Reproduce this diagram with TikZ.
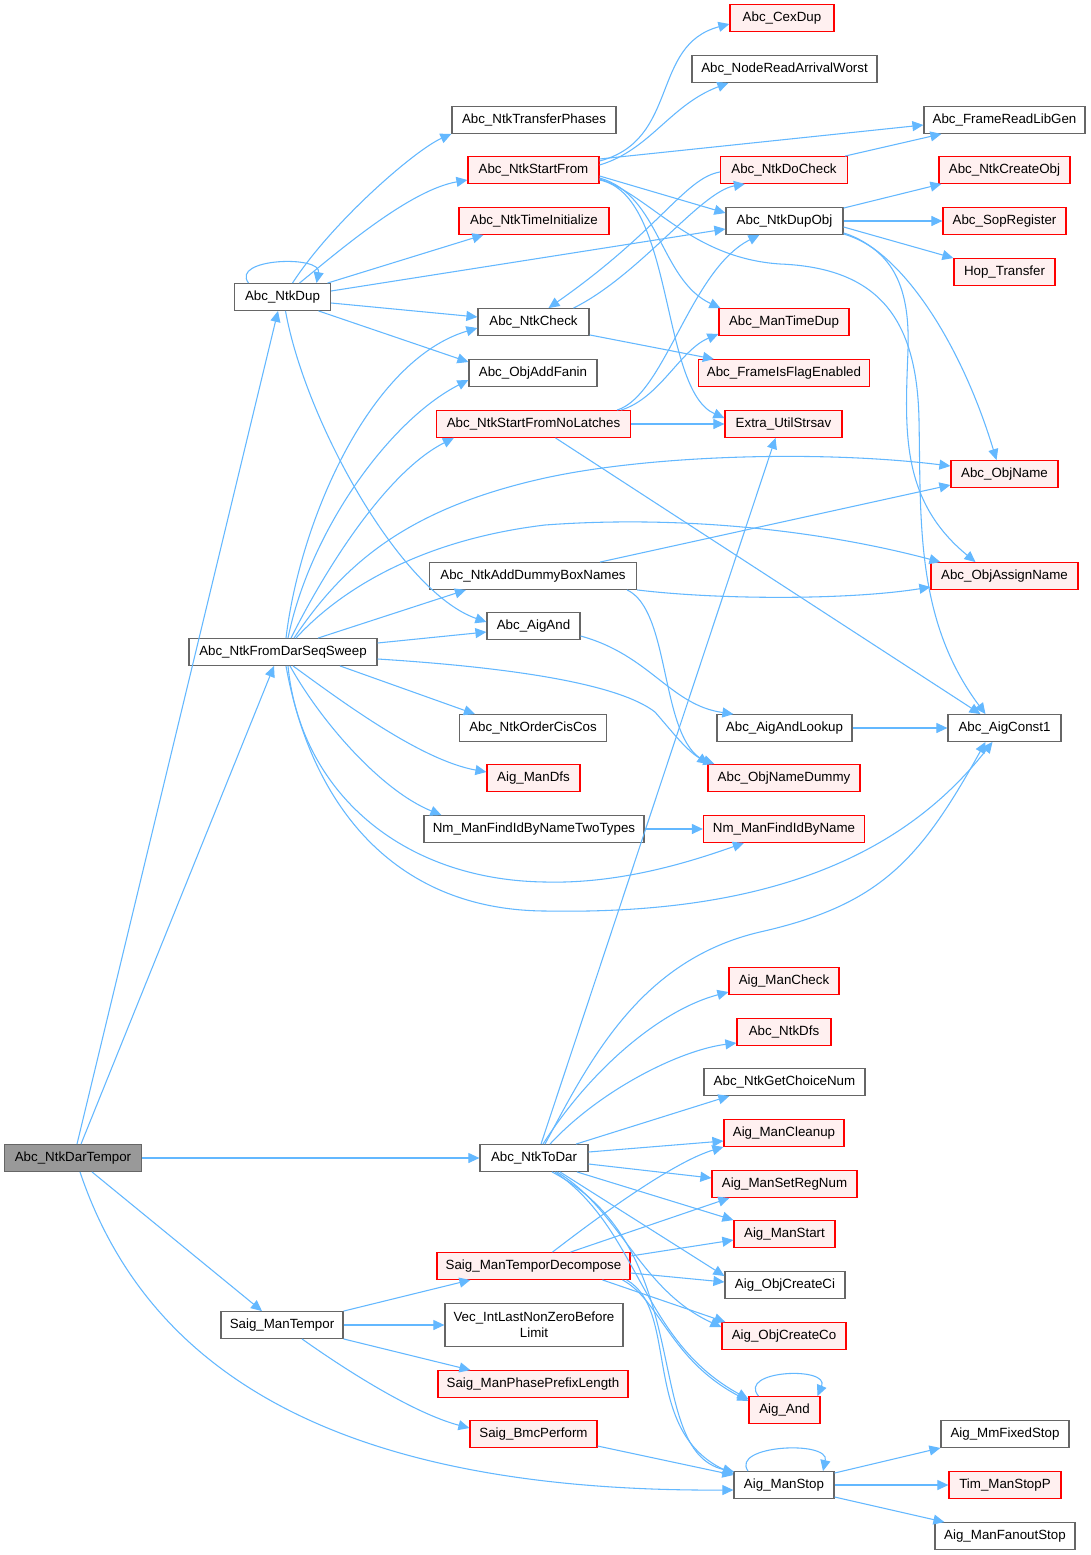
\documentclass[tikz,border=0pt]{standalone}
\usepackage{fontspec}
\setmainfont{Liberation Sans}
\usetikzlibrary{arrows.meta,calc}
\definecolor{edgec}{RGB}{99,184,255}
\definecolor{bordg}{RGB}{102,102,102}
\definecolor{redfill}{RGB}{255,240,240}
\definecolor{rootfill}{RGB}{153,153,153}
\begin{document}
\begin{tikzpicture}[x=0.75pt,y=-0.75pt,
  base/.style={rectangle,inner sep=0pt,minimum height=20pt,line width=0.9pt,font=\fontsize{10}{12}\selectfont,text=black},
  nb/.style={base,draw=bordg,fill=white},
  nr/.style={base,draw=red,fill=redfill},
  nroot/.style={base,draw=bordg,fill=rootfill},
  ed/.style={draw=edgec,line width=0.8pt,-{Triangle[length=8.25pt,width=7.5pt]}}
]
\fill[white] (0,0) rectangle (1090,1555);
\useasboundingbox (0,0) rectangle (1090,1555);

% nodes
\node[nroot,minimum width=102.75pt] (root) at (73,1158) {Abc\_NtkDarTempor};
\node[nb,minimum width=72pt] (dup) at (282.5,297) {Abc\_NtkDup};
\node[nb,minimum width=141pt] (sweep) at (283,652) {Abc\_NtkFromDarSeqSweep};
\node[nb,minimum width=81pt] (todar) at (534,1158) {Abc\_NtkToDar};
\node[nb,minimum width=91.5pt] (stemp) at (282,1325) {Saig\_ManTempor};
\node[nb,minimum width=123pt] (transf) at (534,120) {Abc\_NtkTransferPhases};
\node[nr,minimum width=98.25pt] (startfrom) at (533.5,170) {Abc\_NtkStartFrom};
\node[nr,minimum width=112.5pt] (timeinit) at (534,221) {Abc\_NtkTimeInitialize};
\node[nb,minimum width=83.25pt] (ntkcheck) at (533.5,322) {Abc\_NtkCheck};
\node[nb,minimum width=96pt] (addfanin) at (533,373) {Abc\_ObjAddFanin};
\node[nr,minimum width=145.5pt] (startnl) at (533.5,424) {Abc\_NtkStartFromNoLatches};
\node[nb,minimum width=155.25pt] (dummybox) at (533,576) {Abc\_NtkAddDummyBoxNames};
\node[nb,minimum width=69.75pt] (aigand) at (533.5,626) {Abc\_AigAnd};
\node[nb,minimum width=110.25pt] (ordercis) at (533,728) {Abc\_NtkOrderCisCos};
\node[nr,minimum width=69.75pt] (mandfs) at (533.5,778) {Aig\_ManDfs};
\node[nb,minimum width=165pt] (nmtwo) at (534,829) {Nm\_ManFindIdByNameTwoTypes};
\node[nr,minimum width=78pt] (cexdup) at (782,18) {Abc\_CexDup};
\node[nb,minimum width=138.75pt] (arrival) at (784.5,69) {Abc\_NodeReadArrivalWorst};
\node[nb,minimum width=120.75pt] (libgen) at (1004.5,120) {Abc\_FrameReadLibGen};
\node[nr,minimum width=95.25pt] (docheck) at (784,170) {Abc\_NtkDoCheck};
\node[nb,minimum width=87.75pt] (dupobj) at (784.5,221) {Abc\_NtkDupObj};
\node[nr,minimum width=98.25pt] (createobj) at (1004.5,170) {Abc\_NtkCreateObj};
\node[nr,minimum width=92.25pt] (sopreg) at (1004.5,221) {Abc\_SopRegister};
\node[nr,minimum width=75.75pt] (hop) at (1004.5,272) {Hop\_Transfer};
\node[nr,minimum width=97.5pt] (timedup) at (784,322) {Abc\_ManTimeDup};
\node[nr,minimum width=128.25pt] (flagen) at (784,373) {Abc\_FrameIsFlagEnabled};
\node[nr,minimum width=87.75pt] (strsav) at (783.5,424) {Extra\_UtilStrsav};
\node[nr,minimum width=80.25pt] (objname) at (1004.5,474) {Abc\_ObjName};
\node[nr,minimum width=110.25pt] (assignname) at (1004.5,576) {Abc\_ObjAssignName};
\node[nb,minimum width=101.25pt] (andlookup) at (784.5,728) {Abc\_AigAndLookup};
\node[nb,minimum width=84.75pt] (const1) at (1004.5,728) {Abc\_AigConst1};
\node[nr,minimum width=114pt] (namedummy) at (784,778) {Abc\_ObjNameDummy};
\node[nr,minimum width=120.75pt] (nmfind) at (784,829) {Nm\_ManFindIdByName};
\node[nr,minimum width=82.5pt] (mancheck) at (784,981) {Aig\_ManCheck};
\node[nr,minimum width=70.5pt] (ntkdfs) at (784,1032) {Abc\_NtkDfs};
\node[nb,minimum width=120.75pt] (choice) at (784.5,1082) {Abc\_NtkGetChoiceNum};
\node[nr,minimum width=90pt] (cleanup) at (784,1133) {Aig\_ManCleanup};
\node[nr,minimum width=108.75pt] (setreg) at (784.5,1184) {Aig\_ManSetRegNum};
\node[nr,minimum width=75.75pt] (manstart) at (784.5,1234) {Aig\_ManStart};
\node[nb,minimum width=90pt] (createci) at (785,1285) {Aig\_ObjCreateCi};
\node[nr,minimum width=93pt] (createco) at (784,1336) {Aig\_ObjCreateCo};
\node[nr,minimum width=53.25pt] (aigandn) at (784.5,1410) {Aig\_And};
\node[nb,minimum width=75pt] (manstop) at (784,1485) {Aig\_ManStop};
\node[nb,minimum width=96pt] (fixedstop) at (1005,1434) {Aig\_MmFixedStop};
\node[nr,minimum width=84pt] (stopp) at (1005,1485) {Tim\_ManStopP};
\node[nb,minimum width=105pt] (fanoutstop) at (1005,1536) {Aig\_ManFanoutStop};
\node[nr,minimum width=144.75pt] (decomp) at (533.5,1266) {Saig\_ManTemporDecompose};
\node[nb,minimum width=133.5pt,minimum height=32.25pt,align=center] (vecint) at (534,1325) {Vec\_IntLastNonZeroBefore\\Limit};
\node[nr,minimum width=142.5pt] (prefix) at (533,1384) {Saig\_ManPhasePrefixLength};
\node[nr,minimum width=95.25pt] (bmc) at (533.5,1434) {Saig\_BmcPerform};

% edges from root
\draw[ed] ($(root.north)+(4,0)$) -- ($(dup.south)+(-4.5,0)$);
\draw[ed] ($(root.north)+(8,0)$) -- ($(sweep.south)+(-9,0)$);
\draw[ed] (root.east) -- (todar.west);
\draw[ed] ($(root.south)+(19,0)$) -- ($(stemp.north)+(-20,0)$);
\draw[ed] ($(root.south)+(7,0)$) .. controls (150,1380) and (350,1492) .. ($(manstop.west)+(0,5)$);

% edges from Abc_NtkDup
\draw[ed] ($(dup.north)+(-34,0)$) .. controls (230,258) and (322,255) .. ($(dup.north)+(34,0)$);
\draw[ed] ($(dup.north)+(10,0)$) .. controls (332,222) and (415,150) .. (transf.south west);
\draw[ed] ($(dup.north)+(17,0)$) .. controls (340,250) and (410,190) .. ($(startfrom.west)+(0,10)$);
\draw[ed] ($(dup.north)+(45,0)$) -- ($(timeinit.south west)+(25,0)$);
\draw[ed] ($(dup.east)+(0,-6)$) -- ($(dupobj.west)+(0,8)$);
\draw[ed] ($(dup.east)+(0,6)$) -- ($(ntkcheck.west)+(0,-5)$);
\draw[ed] ($(dup.south)+(36,0)$) -- ($(addfanin.west)+(0,-11)$);
\draw[ed] ($(dup.south)+(3,0)$) .. controls (305,420) and (400,592) .. ($(aigand.west)+(0,-4)$);

% edges from Abc_NtkStartFrom
\draw[ed] ($(startfrom.east)+(0,-9)$) .. controls (680,140) and (650,45) .. ($(cexdup.west)+(0,6)$);
\draw[ed] ($(startfrom.east)+(0,-5)$) .. controls (650,150) and (670,105) .. ($(arrival.south west)+(37,0)$);
\draw[ed] ($(startfrom.east)+(0,-11)$) -- ($(libgen.west)+(0,5)$);
\draw[ed] ($(startfrom.east)+(0,6)$) -- ($(dupobj.west)+(0,-8)$);
\draw[ed] ($(startfrom.east)+(0,8)$) .. controls (660,195) and (660,280) .. ($(timedup.north west)+(2,0)$);
\draw[ed] ($(startfrom.east)+(0,10)$) .. controls (675,195) and (660,390) .. ($(strsav.west)+(0,-6)$);
\draw[ed] ($(startfrom.east)+(0,9)$) .. controls (650,195) and (690,258) .. (780,264)
   .. controls (880,268) and (917,320) .. (919,420)
   .. controls (921,520) and (915,620) .. ($(const1.north)+(-19,0)$);

% Abc_NtkDoCheck / Abc_NtkCheck
\draw[ed] ($(docheck.north east)+(-3,0)$) -- ($(libgen.south west)+(18,0)$);
\draw[ed] ($(docheck.west)+(0,2)$) .. controls (685,178) and (660,230) .. ($(ntkcheck.north)+(15,0)$);
\draw[ed] ($(ntkcheck.north)+(40,0)$) .. controls (640,275) and (700,192) .. ($(docheck.south west)+(25,0)$);
\draw[ed] ($(ntkcheck.south east)+(0,-1)$) -- ($(flagen.north west)+(16,0)$);

% Abc_NtkDupObj
\draw[ed] ($(dupobj.north east)+(0,1)$) -- ($(createobj.south west)+(3,0)$);
\draw[ed] (dupobj.east) -- (sopreg.west);
\draw[ed] ($(dupobj.east)+(0,6)$) -- (hop.north west);
\draw[ed] ($(dupobj.south east)+(0,-2)$) .. controls (900,250) and (960,340) .. ($(objname.north)+(-8,0)$);
\draw[ed] ($(dupobj.south east)+(0,-1)$) .. controls (895,250) and (910,290) .. (908,350)
   .. controls (905,430) and (900,500) .. ($(assignname.north)+(-29,0)$);

% Abc_NtkStartFromNoLatches
\draw[ed] (startnl.east) -- (strsav.west);
\draw[ed] ($(startnl.north east)+(-10,0)$) .. controls (660,398) and (680,350) .. ($(timedup.west)+(0,12)$);
\draw[ed] ($(startnl.north east)+(-14,0)$) .. controls (665,395) and (690,270) .. ($(dupobj.south west)+(34,0)$);
\draw[ed] ($(startnl.south)+(22,0)$) -- ($(const1.north)+(-24,0)$);

% Abc_NtkFromDarSeqSweep
\draw[ed] ($(sweep.north)+(3,0)$) .. controls (300,520) and (370,360) .. ($(ntkcheck.west)+(0,6)$);
\draw[ed] ($(sweep.north)+(5,0)$) .. controls (310,530) and (390,420) .. ($(addfanin.west)+(0,7)$);
\draw[ed] ($(sweep.north)+(8,0)$) .. controls (330,560) and (390,470) .. ($(startnl.south west)+(18,0)$);
\draw[ed] ($(sweep.north)+(11,0)$) .. controls (340,570) and (400,510) .. (545,478)
   .. controls (650,455) and (820,450) .. ($(objname.west)+(0,-8)$);
\draw[ed] ($(sweep.north)+(13,0)$) .. controls (340,590) and (420,540) .. (545,525)
   .. controls (680,515) and (820,530) .. ($(assignname.north west)+(10,0)$);
\draw[ed] ($(sweep.north)+(35,0)$) -- ($(dummybox.south west)+(37,0)$);
\draw[ed] ($(sweep.east)+(0,-9)$) -- ($(aigand.west)+(0,6)$);
\draw[ed] ($(sweep.east)+(0,7)$) .. controls (520,668) and (620,685) .. (655,712)
   .. controls (675,735) and (690,755) .. ($(namedummy.north west)+(7,0)$);
\draw[ed] ($(sweep.south)+(57,0)$) -- ($(ordercis.north west)+(16,0)$);
\draw[ed] ($(sweep.south)+(10,0)$) .. controls (340,700) and (420,760) .. ($(mandfs.west)+(0,-6)$);
\draw[ed] ($(sweep.south)+(7,0)$) .. controls (320,720) and (380,790) .. ($(nmtwo.north west)+(18,0)$);
\draw[ed] ($(sweep.south)+(5,0)$) .. controls (300,790) and (400,880) .. (545,882)
   .. controls (620,884) and (690,862) .. ($(nmfind.south west)+(41,0)$);
\draw[ed] ($(sweep.south)+(3,0)$) .. controls (310,800) and (390,910) .. (545,911)
   .. controls (760,915) and (900,860) .. ($(const1.south)+(-12,0)$);

% Abc_NtkAddDummyBoxNames etc.
\draw[ed] ($(dummybox.north)+(67,0)$) -- ($(objname.west)+(0,11)$);
\draw[ed] (dummybox.south east) .. controls (720,600) and (850,600) .. ($(assignname.west)+(0,11)$);
\draw[ed] ($(dummybox.south east)+(-10,0)$) .. controls (670,610) and (660,730) .. ($(namedummy.north west)+(1,0)$);
\draw[ed] ($(aigand.east)+(0,10)$) .. controls (650,655) and (670,705) .. ($(andlookup.north west)+(17,0)$);
\draw[ed] (andlookup.east) -- (const1.west);
\draw[ed] (nmtwo.east) -- (nmfind.west);

% Abc_NtkToDar
\draw[ed] ($(todar.north)+(7,0)$) -- ($(strsav.south)+(-8,0)$);
\draw[ed] ($(todar.north)+(11,0)$) .. controls (590,1060) and (640,960) .. (760,932)
   .. controls (880,905) and (920,860) .. ($(const1.south)+(-19,0)$);
\draw[ed] ($(todar.north)+(9,0)$) .. controls (590,1070) and (660,1010) .. ($(mancheck.west)+(0,11)$);
\draw[ed] ($(todar.north)+(16,0)$) .. controls (600,1090) and (680,1050) .. ($(ntkdfs.west)+(0,11)$);
\draw[ed] ($(todar.north)+(42,0)$) -- ($(choice.south west)+(26,0)$);
\draw[ed] ($(todar.east)+(0,-6)$) -- ($(cleanup.west)+(0,8)$);
\draw[ed] ($(todar.east)+(0,6)$) -- ($(setreg.west)+(0,-6)$);
\draw[ed] ($(todar.south)+(43,0)$) -- (manstart.north west);
\draw[ed] ($(todar.south)+(26,0)$) -- ($(createci.west)+(0,-9)$);
\draw[ed] ($(todar.south)+(23,0)$) .. controls (620,1210) and (640,1290) .. ($(createco.west)+(0,-9)$);
\draw[ed] ($(todar.south)+(21,0)$) .. controls (640,1230) and (640,1340) .. ($(aigandn.north west)+(0,3)$);
\draw[ed] ($(todar.south)+(18,0)$) .. controls (700,1250) and (640,1450) .. ($(manstop.north west)+(1,1)$);

% Saig_ManTemporDecompose
\draw[ed] ($(decomp.north)+(19,0)$) .. controls (620,1200) and (680,1160) .. (cleanup.south west);
\draw[ed] ($(decomp.north)+(37,0)$) -- ($(setreg.south west)+(18,0)$);
\draw[ed] ($(decomp.east)+(0,-10)$) -- ($(manstart.west)+(0,6)$);
\draw[ed] ($(decomp.east)+(0,7)$) -- ($(createci.west)+(0,-3)$);
\draw[ed] ($(decomp.south)+(69,0)$) -- ($(createco.north west)+(4,0)$);
\draw[ed] ($(decomp.south)+(89,0)$) .. controls (660,1300) and (670,1360) .. ($(aigandn.west)+(0,-9)$);
\draw[ed] ($(decomp.south east)+(-4,0)$) .. controls (680,1310) and (640,1430) .. ($(manstop.north west)+(0,3)$);

% Saig_ManTempor
\draw[ed] (stemp.north east) -- ($(decomp.south west)+(34,0)$);
\draw[ed] (stemp.east) -- (vecint.west);
\draw[ed] (stemp.south east) -- ($(prefix.north west)+(33,0)$);
\draw[ed] ($(stemp.south)+(20,0)$) .. controls (360,1380) and (420,1415) .. ($(bmc.west)+(0,-6)$);
\draw[ed] ($(bmc.east)+(0,12)$) -- ($(manstop.west)+(0,-10)$);

% loops and Aig_ManStop
\draw[ed] ($(manstop.north)+(-36,0)$) .. controls (730,1445) and (830,1440) .. ($(manstop.north)+(39,0)$);
\draw[ed] ($(aigandn.north)+(-26,0)$) .. controls (737,1370) and (830,1366) .. ($(aigandn.north)+(33,0)$);
\draw[ed] ($(manstop.east)+(0,-12)$) -- (fixedstop.south west);
\draw[ed] (manstop.east) -- (stopp.west);
\draw[ed] ($(manstop.east)+(0,12)$) -- ($(fanoutstop.north west)+(10,0)$);
\end{tikzpicture}
\end{document}
